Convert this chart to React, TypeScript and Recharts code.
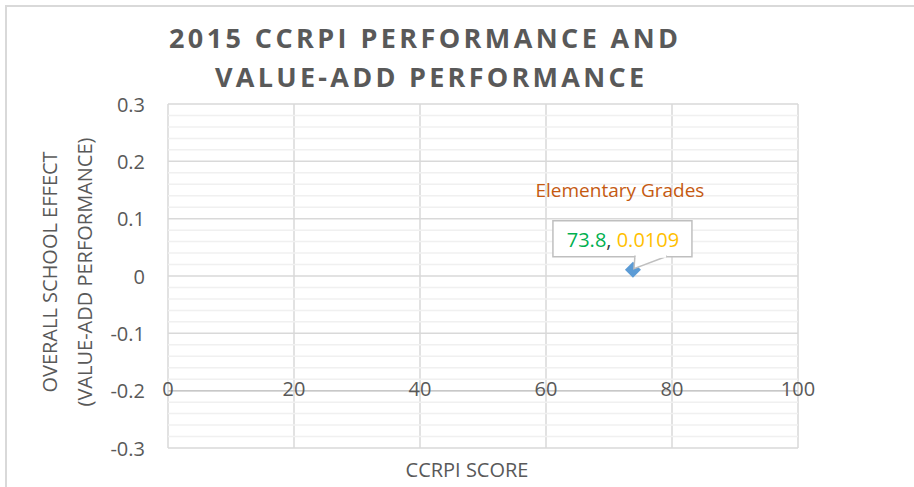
import React from "react";
import {
  ScatterChart,
  Scatter,
  XAxis,
  YAxis,
  CartesianGrid,
  ReferenceLine,
} from "recharts";

// ---- data ----
const seriesName = "Elementary Grades";
const ccrpiScores = [73.8];
const schoolEffects = [0.0109];
const xTicks = [0, 20, 40, 60, 80, 100];
const yTicks = [-0.3, -0.2, -0.1, 0, 0.1, 0.2, 0.3];
const xAxisCrossesAt = -0.2;
const titleLines = ["2015 CCRPI PERFORMANCE AND", "VALUE-ADD PERFORMANCE"];
const xAxisTitle = "CCRPI SCORE";
const yAxisTitleLines = ["OVERALL SCHOOL EFFECT", "(VALUE-ADD PERFORMANCE)"];

const points = ccrpiScores.map((x, i) => ({ x, y: schoolEffects[i] }));

// ---- layout ----
const W = 914;
const H = 487;
const TOP = 104;
const RIGHT = 116;
const X_AXIS_H = 39;
const Y_AXIS_W = 168;
const Y_MIN = yTicks[0];
const Y_MAX = yTicks[yTicks.length - 1];
const PLOT_H = H - TOP - X_AXIS_H;
const AXIS_Y = TOP + (PLOT_H * (Y_MAX - xAxisCrossesAt)) / (Y_MAX - Y_MIN);

// minor gridlines every 1/5 of a major step
const minorTicks: number[] = [];
for (let i = 0; i < yTicks.length - 1; i++) {
  const step = (yTicks[i + 1] - yTicks[i]) / 5;
  for (let k = 1; k < 5; k++) minorTicks.push(+(yTicks[i] + step * k).toFixed(4));
}

const FONT = "'Open Sans', sans-serif";
const GRAY = "#595959";

const XTick = (props: any) => {
  const { x, payload } = props;
  return (
    <text x={x} y={AXIS_Y + 5} textAnchor="middle" fontFamily={FONT} fontSize={20} fill={GRAY}>
      {payload.value}
    </text>
  );
};

const YTick = (props: any) => {
  const { y, payload } = props;
  return (
    <text x={Y_AXIS_W - 23} y={y + 7.5} textAnchor="end" fontFamily={FONT} fontSize={20} fill={GRAY}>
      {String(payload.value)}
    </text>
  );
};

const PointShape = (props: any) => {
  const { cx, cy, payload } = props;
  const r = 8;
  return (
    <g>
      <path
        d={`M${cx},${cy - r} L${cx + r},${cy} L${cx},${cy + r} L${cx - r},${cy} Z`}
        fill="#5B9BD5"
      />
      <rect x={cx - 80} y={cy - 49} width={139} height={36} fill="#fff" stroke="#bfbfbf" strokeWidth={1.5} />
      <polygon
        points={`${cx + 2},${cy - 13.5} ${cx + 34},${cy - 13.5} ${cx + 1},${cy - 1}`}
        fill="#fff"
        stroke="#bfbfbf"
        strokeWidth={1.5}
      />
      <rect x={cx + 2.8} y={cy - 15} width={30.4} height={3} fill="#fff" />
      <text x={cx - 10} y={cy - 23} textAnchor="middle" fontFamily={FONT} fontSize={20}>
        <tspan fill="#00B050">{String(payload.x)}</tspan>
        <tspan fill="#404040">, </tspan>
        <tspan fill="#FFC000">{String(payload.y)}</tspan>
      </text>
      <text x={cx - 13} y={cy - 73} textAnchor="middle" fontFamily={FONT} fontSize={19} fill="#C55A11">
        {seriesName}
      </text>
    </g>
  );
};

const YTitle = () => (
  <g>
    {yAxisTitleLines.map((t, i) => (
      <text
        key={i}
        x={0}
        y={0}
        transform={`translate(${50 + i * 35 + 7}, 272) rotate(-90)`}
        textAnchor="middle"
        fontFamily={FONT}
        fontSize={20}
        fill={GRAY}
      >
        {t}
      </text>
    ))}
  </g>
);

const XTitle = () => (
  <text x={467} y={477} textAnchor="middle" fontFamily={FONT} fontSize={20} fill={GRAY}>
    {xAxisTitle}
  </text>
);

export default function App() {
  return (
    <div
      style={{
        position: "absolute",
        left: 0,
        top: 0,
        width: W,
        height: H,
        overflow: "hidden",
        background: "#fff",
      }}
    >
      <div
        style={{
          position: "absolute",
          left: 5,
          top: 5,
          width: 1000,
          height: 1000,
          border: "2.5px solid #d9d9d9",
        }}
      />
      <svg width={W} height={H} style={{ position: "absolute", left: 0, top: 0 }}>
        <text x={169} y={48} fontFamily={FONT} fontWeight={700} fontSize={27} fill={GRAY} textLength={509} lengthAdjust="spacing">
          {titleLines[0]}
        </text>
        <text x={215} y={87} fontFamily={FONT} fontWeight={700} fontSize={27} fill={GRAY} textLength={429} lengthAdjust="spacing">
          {titleLines[1]}
        </text>
      </svg>
      <div style={{ position: "absolute", left: 0, top: 0 }}>
        <ScatterChart width={W} height={H} margin={{ top: TOP, right: RIGHT, bottom: 0, left: 0 }}>
          {minorTicks.map((v) => (
            <ReferenceLine key={v} y={v} stroke="#f0f0f0" strokeWidth={1.5} />
          ))}
          <CartesianGrid stroke="#d9d9d9" strokeWidth={1.5} />
          <ReferenceLine y={xAxisCrossesAt} stroke="#c8c8c8" strokeWidth={1.5} />
          <XAxis
            type="number"
            dataKey="x"
            domain={[xTicks[0], xTicks[xTicks.length - 1]]}
            ticks={xTicks}
            interval={0}
            axisLine={false}
            tickLine={false}
            height={X_AXIS_H}
            tick={<XTick />}
            label={{ content: () => <XTitle /> }}
          />
          <YAxis
            type="number"
            dataKey="y"
            domain={[Y_MIN, Y_MAX]}
            ticks={yTicks}
            interval={0}
            axisLine={false}
            tickLine={false}
            width={Y_AXIS_W}
            tick={<YTick />}
            label={{ content: () => <YTitle /> }}
          />
          <Scatter data={points} isAnimationActive={false} shape={<PointShape />} />
        </ScatterChart>
      </div>
    </div>
  );
}
